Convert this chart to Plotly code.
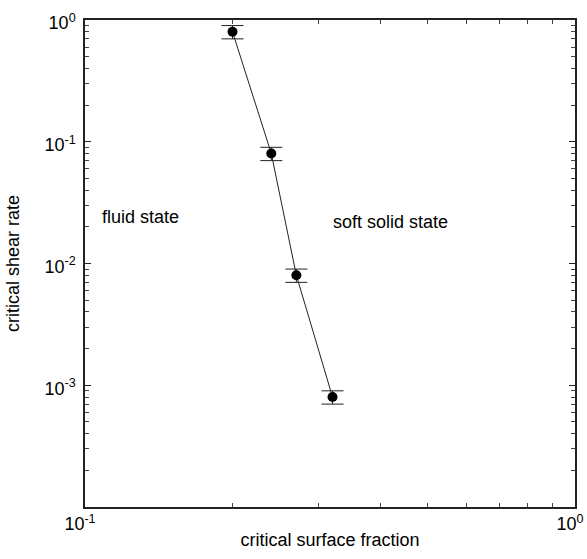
import plotly.graph_objects as go

# data
surface_fraction = [0.2, 0.24, 0.27, 0.32]
shear_rate = [0.8, 0.08, 0.008, 0.0008]
shear_err = [0.1, 0.01, 0.001, 0.0001]

y_major = [1e-3, 1e-2, 1e-1, 1]
y_major_text = ["10<sup>-3</sup>", "10<sup>-2</sup>", "10<sup>-1</sup>", "10<sup>0</sup>"]
x_major = [0.1, 1]
x_major_text = ["10<sup>-1</sup>", "10<sup>0</sup>"]

y_minor = [m * 10.0 ** e for e in range(-4, 0) for m in range(2, 10)]
x_minor = [m * 0.1 for m in range(2, 10)]

font = "Liberation Sans, Arial, sans-serif"

fig = go.Figure()
fig.add_trace(go.Scatter(
    x=surface_fraction, y=shear_rate, mode="lines+markers",
    line=dict(color="#222", width=1),
    marker=dict(color="black", size=10),
    error_y=dict(type="data", array=shear_err, color="#222", thickness=1, width=11),
    showlegend=False,
))

fig.add_annotation(x=-0.886, y=-1.618, xref="x", yref="y", text="fluid state",
                   showarrow=False, font=dict(size=18, color="black", family=font))
fig.add_annotation(x=-0.3765, y=-1.657, xref="x", yref="y", text="soft solid state",
                   showarrow=False, font=dict(size=18, color="black", family=font))

axis_common = dict(
    showline=True, linecolor="#222", linewidth=1.5, mirror="ticks",
    ticks="inside", ticklen=6, tickwidth=1, tickcolor="#222",
    showgrid=False, zeroline=False, automargin=False,
    ticklabeloverflow="allow",
    tickfont=dict(size=18, color="black", family=font),
)

fig.update_xaxes(type="log", range=[-1, 0], tickmode="array",
                 tickvals=x_major, ticktext=x_major_text,
                 ticklabelshift=-5,
                 minor=dict(tickmode="array", tickvals=x_minor, ticks="inside",
                            ticklen=4, tickcolor="#444", showgrid=False),
                 title=dict(text="critical surface fraction",
                            font=dict(size=18, color="black", family=font), standoff=0),
                 **axis_common)
fig.update_yaxes(type="log", range=[-4, 0], tickmode="array",
                 tickvals=y_major, ticktext=y_major_text,
                 ticklabelstandoff=4, ticklabelshift=3,
                 minor=dict(tickmode="array", tickvals=y_minor, ticks="inside",
                            ticklen=4, tickcolor="#444", showgrid=False),
                 title=dict(text="critical shear rate",
                            font=dict(size=18, color="black", family=font), standoff=20),
                 **axis_common)

fig.update_layout(
    width=587, height=559,
    margin=dict(l=85, r=12, t=20, b=52),
    paper_bgcolor="white", plot_bgcolor="white",
    font=dict(family=font, color="black"),
)

fig.write_html("out.html")
